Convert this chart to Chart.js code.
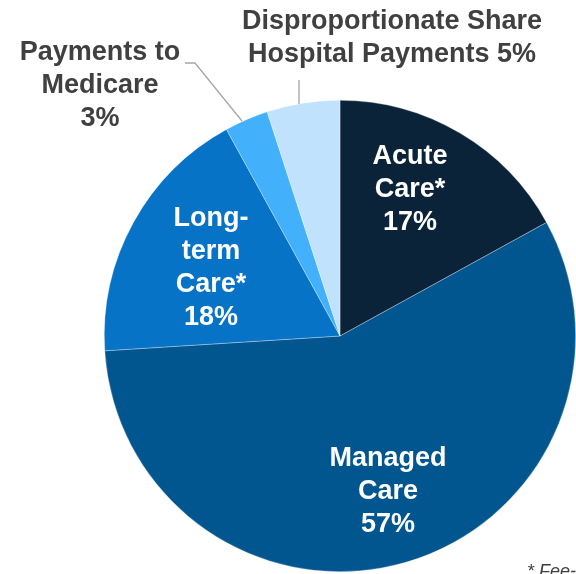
<!DOCTYPE html>
<html><head><meta charset="utf-8">
<script src="https://cdn.jsdelivr.net/npm/chart.js@4/dist/chart.umd.min.js"></script>
<style>html,body{margin:0;padding:0;background:#fff;}#wrap{width:576px;height:574px;position:relative;}</style>
</head><body><div id="wrap"><canvas id="c" width="576" height="574"></canvas></div>
<script>
const categories = ["Acute Care*", "Managed Care", "Long-term Care*", "Payments to Medicare", "Disproportionate Share Hospital Payments"];
const values = [17, 57, 18, 3, 5];
const colors = ["#0b2339", "#02568f", "#0673c6", "#42b0fb", "#c0e2fc"];
const labelLines = [
  ["Acute", "Care*", "17%"],
  ["Managed", "Care", "57%"],
  ["Long-", "term", "Care*", "18%"],
  ["Payments to", "Medicare", "3%"],
  ["Disproportionate Share", "Hospital Payments 5%"]
];
const footnote = "* Fee-for-service";

const labelPlugin = {
  id: 'labels',
  afterDraw(chart) {
    const ctx = chart.ctx;
    ctx.save();
    ctx.textAlign = 'center';
    ctx.textBaseline = 'middle';
    ctx.font = 'bold 27px "Liberation Sans", Arial, sans-serif';
    const pos = [
      {x: 410, y: 157, c: '#ffffff'},
      {x: 388, y: 459, c: '#ffffff'},
      {x: 211, y: 219, c: '#ffffff'},
      {x: 100, y: 53, c: '#404040'},
      {x: 392, y: 22, c: '#404040'}
    ];
    const lh = 32.8;
    labelLines.forEach((lines, i) => {
      ctx.fillStyle = pos[i].c;
      lines.forEach((t, j) => ctx.fillText(t, pos[i].x, pos[i].y + j * lh));
    });
    // leader lines
    ctx.strokeStyle = '#a6a6a6';
    ctx.lineWidth = 1.3;
    ctx.beginPath();
    ctx.moveTo(185, 63); ctx.lineTo(195, 63); ctx.lineTo(242, 121);
    ctx.moveTo(299, 80); ctx.lineTo(299, 104);
    ctx.stroke();
    // footnote
    ctx.textAlign = 'left';
    ctx.textBaseline = 'alphabetic';
    ctx.font = 'italic 18px "Liberation Sans", Arial, sans-serif';
    ctx.fillStyle = '#404040';
    ctx.fillText(footnote, 527, 577);
    ctx.restore();
  }
};

new Chart(document.getElementById('c'), {
  type: 'pie',
  data: {
    labels: categories,
    datasets: [{
      data: values,
      backgroundColor: colors,
      borderColor: 'rgba(255,255,255,0.5)',
      borderWidth: 0.6
    }]
  },
  options: {
    responsive: false,
    animation: false,
    layout: {padding: {left: 104, right: 0, top: 100, bottom: 2}},
    plugins: {legend: {display: false}, tooltip: {enabled: false}}
  },
  plugins: [labelPlugin]
});
</script></body></html>
